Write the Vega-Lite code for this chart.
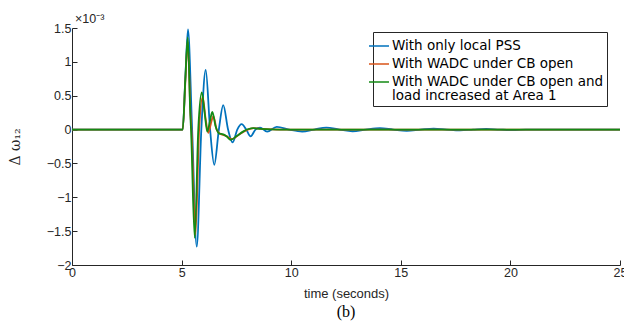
{
  "$schema": "https://vega.github.io/schema/vega-lite/v6.json",
  "width": 548,
  "height": 237,
  "autosize": {"type": "none"},
  "padding": {"left": 72, "top": 28, "right": 4, "bottom": 57},
  "background": "white",
  "config": {
    "view": {"stroke": null},
    "font": "Liberation Sans",
    "axis": {"grid": false, "domainColor": "#262626", "tickColor": "#262626", "labelColor": "#262626", "titleColor": "#262626", "labelFont": "Liberation Sans", "titleFont": "Liberation Sans", "labelFontSize": 12.5, "titleFontSize": 13, "titleFontWeight": "normal", "tickSize": -5, "domainWidth": 1, "tickWidth": 1, "labelOverlap": false, "labelFlush": false}
  },
  "title": {"text": "(b)", "orient": "bottom", "font": "Liberation Serif", "fontSize": 16, "fontWeight": "normal", "color": "#000000", "offset": 3, "anchor": "middle"},
  "data": {
    "values": [
      {"t": 0, "v": 0, "s": "With only local PSS"},
      {"t": 5.05, "v": 0, "s": "With only local PSS"},
      {"t": 5.17, "v": 0.75, "s": "With only local PSS"},
      {"t": 5.29, "v": 1.48, "s": "With only local PSS"},
      {"t": 5.48, "v": 0, "s": "With only local PSS"},
      {"t": 5.69, "v": -1.73, "s": "With only local PSS"},
      {"t": 5.9, "v": 0, "s": "With only local PSS"},
      {"t": 6.1, "v": 0.88, "s": "With only local PSS"},
      {"t": 6.3, "v": 0, "s": "With only local PSS"},
      {"t": 6.49, "v": -0.52, "s": "With only local PSS"},
      {"t": 6.7, "v": 0, "s": "With only local PSS"},
      {"t": 6.9, "v": 0.36, "s": "With only local PSS"},
      {"t": 7.12, "v": 0, "s": "With only local PSS"},
      {"t": 7.33, "v": -0.19, "s": "With only local PSS"},
      {"t": 7.54, "v": 0, "s": "With only local PSS"},
      {"t": 7.74, "v": 0.08, "s": "With only local PSS"},
      {"t": 7.95, "v": 0, "s": "With only local PSS"},
      {"t": 8.15, "v": -0.1, "s": "With only local PSS"},
      {"t": 8.37, "v": 0, "s": "With only local PSS"},
      {"t": 8.58, "v": 0.03, "s": "With only local PSS"},
      {"t": 8.9, "v": -0.03, "s": "With only local PSS"},
      {"t": 9.34, "v": 0.04, "s": "With only local PSS"},
      {"t": 9.9, "v": 0, "s": "With only local PSS"},
      {"t": 10.5, "v": -0.03, "s": "With only local PSS"},
      {"t": 11.05, "v": 0, "s": "With only local PSS"},
      {"t": 11.6, "v": 0.03, "s": "With only local PSS"},
      {"t": 12.2, "v": 0, "s": "With only local PSS"},
      {"t": 12.8, "v": -0.025, "s": "With only local PSS"},
      {"t": 13.4, "v": 0, "s": "With only local PSS"},
      {"t": 14.05, "v": 0.02, "s": "With only local PSS"},
      {"t": 14.65, "v": 0, "s": "With only local PSS"},
      {"t": 15.27, "v": -0.018, "s": "With only local PSS"},
      {"t": 15.9, "v": 0, "s": "With only local PSS"},
      {"t": 16.5, "v": 0.015, "s": "With only local PSS"},
      {"t": 17.1, "v": 0, "s": "With only local PSS"},
      {"t": 17.7, "v": -0.012, "s": "With only local PSS"},
      {"t": 18.3, "v": 0, "s": "With only local PSS"},
      {"t": 18.9, "v": 0.01, "s": "With only local PSS"},
      {"t": 19.5, "v": 0, "s": "With only local PSS"},
      {"t": 20.1, "v": -0.008, "s": "With only local PSS"},
      {"t": 20.7, "v": 0, "s": "With only local PSS"},
      {"t": 25, "v": 0, "s": "With only local PSS"},

      {"t": 0, "v": 0, "s": "With WADC under CB open"},
      {"t": 5.05, "v": 0, "s": "With WADC under CB open"},
      {"t": 5.17, "v": 0.7, "s": "With WADC under CB open"},
      {"t": 5.28, "v": 1.3, "s": "With WADC under CB open"},
      {"t": 5.41, "v": 0.2, "s": "With WADC under CB open"},
      {"t": 5.45, "v": 0, "s": "With WADC under CB open"},
      {"t": 5.63, "v": -1.55, "s": "With WADC under CB open"},
      {"t": 5.8, "v": 0, "s": "With WADC under CB open"},
      {"t": 5.96, "v": 0.48, "s": "With WADC under CB open"},
      {"t": 6.1, "v": 0.15, "s": "With WADC under CB open"},
      {"t": 6.22, "v": -0.05, "s": "With WADC under CB open"},
      {"t": 6.33, "v": 0.08, "s": "With WADC under CB open"},
      {"t": 6.45, "v": 0.2, "s": "With WADC under CB open"},
      {"t": 6.6, "v": 0, "s": "With WADC under CB open"},
      {"t": 6.8, "v": -0.07, "s": "With WADC under CB open"},
      {"t": 7.0, "v": -0.09, "s": "With WADC under CB open"},
      {"t": 7.3, "v": -0.14, "s": "With WADC under CB open"},
      {"t": 7.6, "v": -0.08, "s": "With WADC under CB open"},
      {"t": 7.9, "v": -0.02, "s": "With WADC under CB open"},
      {"t": 8.3, "v": 0.02, "s": "With WADC under CB open"},
      {"t": 8.7, "v": 0.01, "s": "With WADC under CB open"},
      {"t": 9.5, "v": 0, "s": "With WADC under CB open"},
      {"t": 25, "v": 0, "s": "With WADC under CB open"},

      {"t": 0, "v": 0, "s": "With WADC under CB open and|load increased at Area 1"},
      {"t": 5.05, "v": 0, "s": "With WADC under CB open and|load increased at Area 1"},
      {"t": 5.17, "v": 0.75, "s": "With WADC under CB open and|load increased at Area 1"},
      {"t": 5.28, "v": 1.36, "s": "With WADC under CB open and|load increased at Area 1"},
      {"t": 5.4, "v": 0.2, "s": "With WADC under CB open and|load increased at Area 1"},
      {"t": 5.43, "v": 0, "s": "With WADC under CB open and|load increased at Area 1"},
      {"t": 5.6, "v": -1.6, "s": "With WADC under CB open and|load increased at Area 1"},
      {"t": 5.76, "v": 0, "s": "With WADC under CB open and|load increased at Area 1"},
      {"t": 5.92, "v": 0.55, "s": "With WADC under CB open and|load increased at Area 1"},
      {"t": 6.05, "v": 0.25, "s": "With WADC under CB open and|load increased at Area 1"},
      {"t": 6.17, "v": -0.03, "s": "With WADC under CB open and|load increased at Area 1"},
      {"t": 6.29, "v": 0.12, "s": "With WADC under CB open and|load increased at Area 1"},
      {"t": 6.4, "v": 0.26, "s": "With WADC under CB open and|load increased at Area 1"},
      {"t": 6.55, "v": 0.05, "s": "With WADC under CB open and|load increased at Area 1"},
      {"t": 6.72, "v": -0.06, "s": "With WADC under CB open and|load increased at Area 1"},
      {"t": 6.9, "v": -0.07, "s": "With WADC under CB open and|load increased at Area 1"},
      {"t": 7.05, "v": -0.1, "s": "With WADC under CB open and|load increased at Area 1"},
      {"t": 7.24, "v": -0.15, "s": "With WADC under CB open and|load increased at Area 1"},
      {"t": 7.5, "v": -0.1, "s": "With WADC under CB open and|load increased at Area 1"},
      {"t": 7.8, "v": -0.03, "s": "With WADC under CB open and|load increased at Area 1"},
      {"t": 8.27, "v": 0.02, "s": "With WADC under CB open and|load increased at Area 1"},
      {"t": 8.6, "v": 0.01, "s": "With WADC under CB open and|load increased at Area 1"},
      {"t": 9.5, "v": 0, "s": "With WADC under CB open and|load increased at Area 1"},
      {"t": 25, "v": 0, "s": "With WADC under CB open and|load increased at Area 1"}
    ]
  },
  "encoding": {
    "x": {"field": "t", "type": "quantitative", "scale": {"domain": [0, 25], "nice": false}, "axis": {"values": [0, 5, 10, 15, 20, 25], "title": "time (seconds)", "labelPadding": 6, "titlePadding": 9, "labelOverlap": false, "labelFlush": false}},
    "y": {"field": "v", "type": "quantitative", "scale": {"domain": [-2, 1.5], "nice": false}, "axis": {"values": [-2, -1.5, -1, -0.5, 0, 0.5, 1, 1.5], "tickCount": 8, "title": "Δ ω₁₂", "titleFont": "DejaVu Serif", "titleFontSize": 14, "labelPadding": 6, "titlePadding": 24, "labelOverlap": false, "labelFlush": false, "format": ".1~f"}}
  },
  "layer": [
    {
      "mark": {"type": "line", "strokeWidth": 1.8, "interpolate": "monotone", "clip": true},
      "encoding": {
        "color": {
          "field": "s", "type": "nominal",
          "sort": ["With only local PSS", "With WADC under CB open", "With WADC under CB open and|load increased at Area 1"],
          "scale": {"domain": ["With only local PSS", "With WADC under CB open", "With WADC under CB open and|load increased at Area 1"], "range": ["#0072BD", "#D95319", "#138A13"]},
          "legend": {"title": null, "orient": "none", "legendX": 301, "legendY": 4, "labelExpr": "split(datum.label, '|')", "labelLimit": 400, "labelFontSize": 13.5, "labelColor": "#000000", "labelFont": "DejaVu Sans", "symbolType": "M-1,0L1,0", "symbolSize": 400, "symbolStrokeWidth": 1.5, "strokeColor": "#262626", "fillColor": "white", "padding": 3, "rowPadding": -3, "symbolOffset": -8, "labelOffset": 2,
            "encode": {"labels": {"update": {"lineHeight": {"value": 14}}}}}
        }
      }
    },
    {
      "data": {"values": [{"t": 0, "v": 1.5, "label": "×10⁻³"}]},
      "mark": {"type": "text", "align": "left", "baseline": "bottom", "dx": 3, "dy": -2, "fontSize": 12.5, "color": "#262626"},
      "encoding": {
        "text": {"field": "label"}
      }
    }
  ]
}
